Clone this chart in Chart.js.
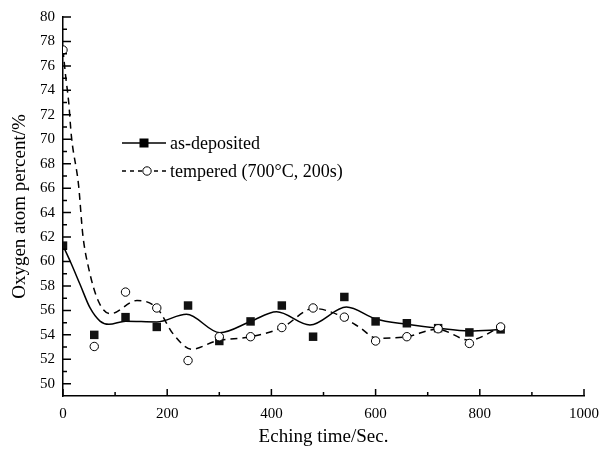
<!DOCTYPE html>
<html lang="en">
<head>
<meta charset="UTF-8">
<title>Oxygen atom percent vs eching time</title>
<script src="https://cdn.jsdelivr.net/npm/chart.js"></script>
<style>
  html, body { margin: 0; padding: 0; background: #fff; }
  #wrap { width: 613px; height: 452px; }
</style>
</head>
<body>
<div id="wrap"><canvas id="oxygenChart"></canvas></div>
<script>
// measured points
const etchTimes   = [0, 60, 120, 180, 240, 300, 360, 420, 480, 540, 600, 660, 720, 780, 840];
const asDeposited = [61.3, 54.0, 55.45, 54.65, 56.4, 53.5, 55.1, 56.4, 53.85, 57.1, 55.1, 54.95, 54.55, 54.2, 54.45];
const tempered    = [77.3, 53.05, 57.5, 56.2, 51.9, 53.85, 53.85, 54.6, 56.2, 55.45, 53.5, 53.85, 54.5, 53.3, 54.65];

// smoothed curves
const fitDepX = [0, 14, 33, 52, 71, 88, 120, 180, 237, 301, 360, 410, 474, 544, 600, 660, 720, 780, 840];
const fitDepY = [61.3, 60.0, 58.1, 56.2, 55.13, 54.86, 55.12, 55.06, 55.68, 54.18, 55.1, 55.89, 54.81, 56.27, 55.3, 54.86, 54.54, 54.32, 54.43];
const fitTemX = [0, 5, 11, 16, 30, 38, 49, 68, 91, 142, 180, 212, 247, 295, 359, 420, 481, 526, 570, 602, 660, 719, 780, 840];
const fitTemY = [77.3, 75.2, 73.0, 70.3, 66.2, 62.2, 59.5, 56.75, 55.73, 56.81, 56.2, 54.05, 52.83, 53.51, 53.84, 54.59, 56.16, 55.68, 54.59, 53.73, 53.86, 54.46, 53.57, 54.65];

// tick labels
const xLabels = [0, 200, 400, 600, 800, 1000];
const yLabels = [50, 52, 54, 56, 58, 60, 62, 64, 66, 68, 70, 72, 74, 76, 78, 80];

const seriesNames = ['as-deposited', 'tempered (700°C, 200s)'];

const toXY = (xs, ys) => xs.map((x, i) => ({ x: x, y: ys[i] }));
const serif = '"Liberation Serif", "DejaVu Serif", serif';

// inward ticks + legend inside the plot
const extras = {
  id: 'extras',
  afterDraw(chart) {
    const { ctx, scales: { x, y } } = chart;
    ctx.save();
    ctx.strokeStyle = '#000';
    ctx.lineWidth = 1.5;
    ctx.beginPath();
    x.ticks.forEach(t => {
      const px = x.getPixelForValue(t.value);
      const len = xLabels.includes(t.value) ? 7 : 4;
      ctx.moveTo(px, x.top);
      ctx.lineTo(px, x.top - len);
    });
    y.ticks.forEach(t => {
      if (t.value < 50) return;
      const py = y.getPixelForValue(t.value);
      const len = yLabels.includes(t.value) ? 8 : 4;
      ctx.moveTo(y.right, py);
      ctx.lineTo(y.right + len, py);
    });
    ctx.stroke();

    // legend
    ctx.font = '18px ' + serif;
    ctx.fillStyle = '#000';
    ctx.textBaseline = 'middle';
    ctx.lineWidth = 1.5;
    let ly = 143;
    ctx.beginPath();
    ctx.moveTo(122, ly); ctx.lineTo(166, ly);
    ctx.stroke();
    ctx.fillRect(139.5, ly - 4.5, 9, 9);
    ctx.fillText(seriesNames[0], 170, ly + 1);

    ly = 171;
    ctx.setLineDash([4, 4]);
    ctx.beginPath();
    ctx.moveTo(122, ly); ctx.lineTo(166, ly);
    ctx.stroke();
    ctx.setLineDash([]);
    ctx.lineWidth = 1;
    ctx.beginPath();
    ctx.arc(147, ly, 4.2, 0, Math.PI * 2);
    ctx.fillStyle = '#fff';
    ctx.fill();
    ctx.stroke();
    ctx.fillStyle = '#000';
    ctx.fillText(seriesNames[1], 170, ly + 1);
    ctx.restore();
  }
};

new Chart(document.getElementById('oxygenChart'), {
  type: 'scatter',
  data: {
    datasets: [
      {
        label: seriesNames[1],
        data: toXY(etchTimes, tempered),
        pointStyle: 'circle',
        pointRadius: 4.2,
        pointBorderWidth: 1,
        pointBackgroundColor: '#fff',
        pointBorderColor: '#000',
        showLine: false,
        order: 1
      },
      {
        label: seriesNames[0],
        data: toXY(etchTimes, asDeposited),
        pointStyle: 'rect',
        pointRadius: 6,
        pointBorderWidth: 0,
        pointBackgroundColor: '#111',
        pointBorderColor: '#111',
        showLine: false,
        order: 2
      },
      {
        label: 'fit tempered',
        data: toXY(fitTemX, fitTemY),
        showLine: true,
        pointRadius: 0,
        borderColor: '#000',
        borderWidth: 1.5,
        borderDash: [7, 5],
        cubicInterpolationMode: 'monotone',
        order: 3
      },
      {
        label: 'fit as-deposited',
        data: toXY(fitDepX, fitDepY),
        showLine: true,
        pointRadius: 0,
        borderColor: '#000',
        borderWidth: 1.5,
        cubicInterpolationMode: 'monotone',
        order: 4
      }
    ]
  },
  options: {
    responsive: true,
    maintainAspectRatio: false,
    animation: false,
    layout: { padding: { left: 0, top: 13, right: 29, bottom: 0 } },
    plugins: {
      legend: { display: false },
      tooltip: { enabled: false }
    },
    scales: {
      x: {
        type: 'linear',
        min: 0,
        max: 1000,
        grid: { display: false, drawTicks: false },
        border: { display: true, color: '#000', width: 1.5 },
        ticks: {
          stepSize: 100,
          autoSkip: false,
          maxRotation: 0,
          padding: 9,
          color: '#000',
          font: { family: serif, size: 15 },
          callback: v => xLabels.includes(v) ? String(v) : ''
        },
        title: {
          display: true,
          text: 'Eching time/Sec.',
          color: '#000',
          font: { family: serif, size: 19 },
          padding: { top: 0, bottom: 4 }
        },
        afterFit: s => { s.height = 56; }
      },
      y: {
        min: 49,
        max: 80,
        grid: { display: false, drawTicks: false },
        border: { display: true, color: '#000', width: 1.5 },
        ticks: {
          stepSize: 1,
          autoSkip: false,
          padding: 8,
          color: '#000',
          font: { family: serif, size: 15 },
          callback: v => yLabels.includes(v) ? String(v) : ''
        },
        title: {
          display: true,
          text: 'Oxygen atom percent/%',
          color: '#000',
          font: { family: serif, size: 19 },
          padding: { top: 9, bottom: 0 }
        },
        afterFit: s => { s.width = 63; }
      }
    }
  },
  plugins: [extras]
});
</script>
</body>
</html>
